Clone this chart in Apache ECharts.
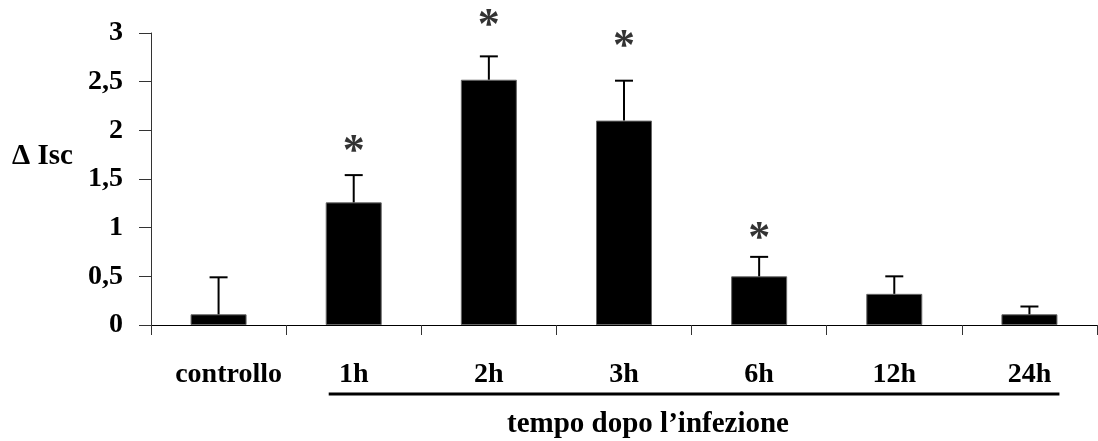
<!DOCTYPE html>
<html><head><meta charset="utf-8">
<script src="https://cdn.jsdelivr.net/npm/echarts@6/dist/echarts.min.js"></script>
<style>html,body{margin:0;padding:0;background:#fff}#c{width:1098px;height:441px}</style>
</head><body><div id="c"></div>
<script>
const categories = ['controllo', '1h', '2h', '3h', '6h', '12h', '24h'];
const values = [0.11, 1.26, 2.52, 2.1, 0.5, 0.32, 0.11];
const errors = [0.38, 0.28, 0.24, 0.41, 0.2, 0.18, 0.08];
const starCategories = ['1h', '2h', '3h', '6h'];
const starValues = [1.85, 3.15, 2.93, 0.96];
const yAxisName = 'Δ Isc';
const xAxisTitle = 'tempo dopo l’infezione';

const FONT = '"Liberation Serif", "Times New Roman", serif';
const chart = echarts.init(document.getElementById('c'), null, {renderer: 'canvas'});
const BAR_W = 56;

chart.setOption({
  animation: false,
  backgroundColor: '#fff',
  grid: {left: 151, right: 1, top: 33, bottom: 116, containLabel: false},
  title: [
    {text: xAxisTitle, left: 643, top: 405, textAlign: 'center',
     textStyle: {fontFamily: FONT, fontWeight: 'bold', fontSize: 29, color: '#000'}},
    {text: yAxisName, left: 7, top: 137,
     textStyle: {fontFamily: FONT, fontWeight: 'bold', fontSize: 29, color: '#000'}}
  ],
  xAxis: {
    type: 'category',
    data: categories.map((c, i) => i === 0 ? {value: c, textStyle: {padding: [0, 0, 0, 20]}} : c),
    boundaryGap: true,
    axisLine: {lineStyle: {color: '#000', width: 1}},
    axisTick: {show: true, interval: 0, length: 10, alignWithLabel: false, lineStyle: {color: '#333'}},
    axisLabel: {interval: 0, hideOverlap: false, margin: 36, fontFamily: FONT, fontWeight: 'bold', fontSize: 28, color: '#000'}
  },
  yAxis: {
    type: 'value', min: 0, max: 3, interval: 0.5,
    axisLine: {show: true, lineStyle: {color: '#333', width: 1}},
    axisTick: {show: true, length: 12, lineStyle: {color: '#333'}},
    splitLine: {show: false},
    axisLabel: {margin: 28, fontFamily: FONT, fontWeight: 'bold', fontSize: 28, color: '#000',
      formatter: v => String(v).replace('.', ',')}
  },
  series: [
    {type: 'bar', data: values, barWidth: BAR_W,
     itemStyle: {color: '#000', borderColor: '#666', borderWidth: 1}},
    {type: 'custom', z: 3,
     data: categories.map((c, i) => [i, values[i], errors[i]]),
     renderItem: function (params, api) {
       const x = api.value(0), v = api.value(1), e = api.value(2);
       const p0 = api.coord([x, v]);
       const p1 = api.coord([x, v + e]);
       const half = 9;
       return {type: 'group', children: [
         {type: 'line', shape: {x1: p0[0], y1: p0[1], x2: p1[0], y2: p1[1]}, style: {stroke: '#000', lineWidth: 2}},
         {type: 'line', shape: {x1: p1[0] - half, y1: p1[1], x2: p1[0] + half, y2: p1[1]}, style: {stroke: '#000', lineWidth: 2}}
       ]};
     }},
    {type: 'scatter', clip: false, symbolSize: 0,
     data: starCategories.map((c, i) => [c, starValues[i]]),
     label: {show: true, formatter: '*', position: 'inside', offset: [0, 8],
       fontFamily: FONT, fontWeight: 'bold', fontSize: 44, color: '#000'}}
  ]
});

const xa = chart.convertToPixel({xAxisIndex: 0}, '1h');
const xb = chart.convertToPixel({xAxisIndex: 0}, '24h');
chart.setOption({graphic: [{type: 'line', z: 10,
  shape: {x1: xa - BAR_W / 2 + 3, y1: 394, x2: xb + BAR_W / 2 + 2, y2: 394},
  style: {stroke: '#000', lineWidth: 3}}]});
</script></body></html>
